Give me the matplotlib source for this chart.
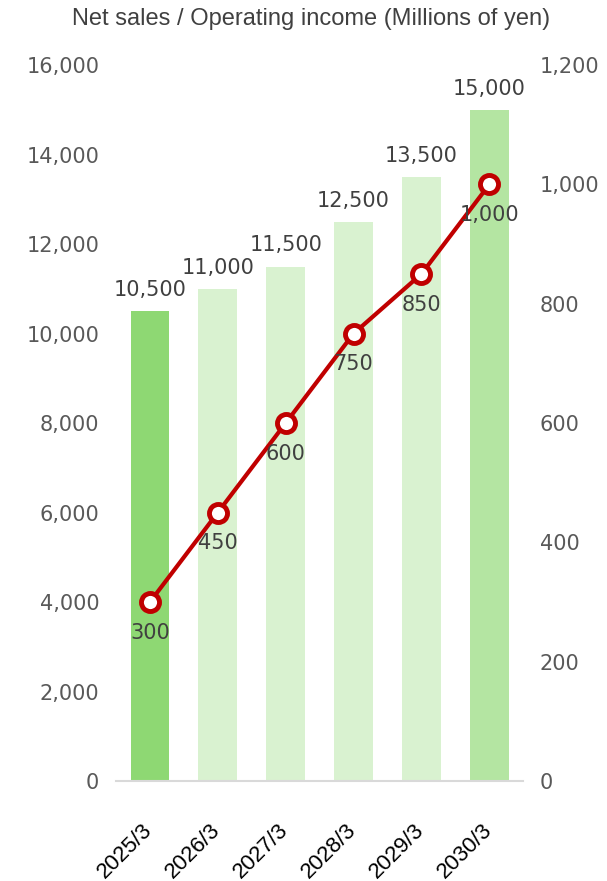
import matplotlib
matplotlib.use("Agg")
import matplotlib.pyplot as plt

# Fiscal years and forecast figures
years = ["2025/3", "2026/3", "2027/3", "2028/3", "2029/3", "2030/3"]
net_sales = [10500, 11000, 11500, 12500, 13500, 15000]
operating_income = [300, 450, 600, 750, 850, 1000]
bar_colors = ["#8ED873", "#D9F2D0", "#D9F2D0", "#D9F2D0", "#D9F2D0", "#B4E5A2"]

left_ticks = [0, 2000, 4000, 6000, 8000, 10000, 12000, 14000, 16000]
right_ticks = [0, 200, 400, 600, 800, 1000, 1200]

num_font = "DejaVu Sans"
tick_color = "#595959"
label_color = "#404040"

fig = plt.figure(figsize=(6.07, 8.81), dpi=100)
ax = fig.add_axes([0.191, 0.1135, 0.671, 0.8125])
x = list(range(len(years)))

ax.bar(x, net_sales, width=0.57, color=bar_colors, zorder=2)
for xi, v in zip(x, net_sales):
    ax.annotate(f"{v:,}", (xi, v), xytext=(0, 8), textcoords="offset points",
                ha="center", va="bottom", fontsize=15, color=label_color,
                family=num_font)

ax.set_xlim(-0.5, len(years) - 0.5)
ax.set_ylim(0, 16000)
ax.set_yticks(left_ticks)
ax.set_yticklabels([f"{t:,}" for t in left_ticks], fontsize=15,
                   color=tick_color, family=num_font)
ax.set_xticks(x)
ax.set_xticklabels([])
# Category labels, rotated and hung below each bar
for xi, name in zip(x, years):
    ax.annotate(name, (xi, 0), xycoords=("data", "axes fraction"),
                xytext=(-5.8, -27.7), textcoords="offset points",
                rotation=45, rotation_mode="anchor", ha="right", va="top",
                fontsize=16, color="black", family="Liberation Sans",
                annotation_clip=False)
ax.tick_params(axis="both", length=0)
ax.tick_params(axis="y", pad=12)
for s in ["top", "right", "left"]:
    ax.spines[s].set_visible(False)
ax.spines["bottom"].set_color("#D9D9D9")
ax.spines["bottom"].set_linewidth(1.5)

ax2 = ax.twinx()
ax2.plot(x, operating_income, color="#C00000", linewidth=3, marker="o",
         markersize=13, markerfacecolor="white", markeredgecolor="#C00000",
         markeredgewidth=3.5, zorder=3)
for xi, v in zip(x, operating_income):
    ax2.annotate(f"{v:,}", (xi, v), xytext=(0, -15), textcoords="offset points",
                 ha="center", va="top", fontsize=15, color=label_color,
                 family=num_font)
ax2.set_ylim(0, 1200)
ax2.set_yticks(right_ticks)
ax2.set_yticklabels([f"{t:,}" for t in right_ticks], fontsize=15,
                    color=tick_color, family=num_font)
ax2.tick_params(axis="y", length=0, pad=12)
for s in ax2.spines.values():
    s.set_visible(False)

fig.text(0.513, 0.979, "Net sales / Operating income (Millions of yen)",
         ha="center", va="center", fontsize=17, color="#404040",
         family="Liberation Sans")

fig.savefig("out.png", dpi=100)
